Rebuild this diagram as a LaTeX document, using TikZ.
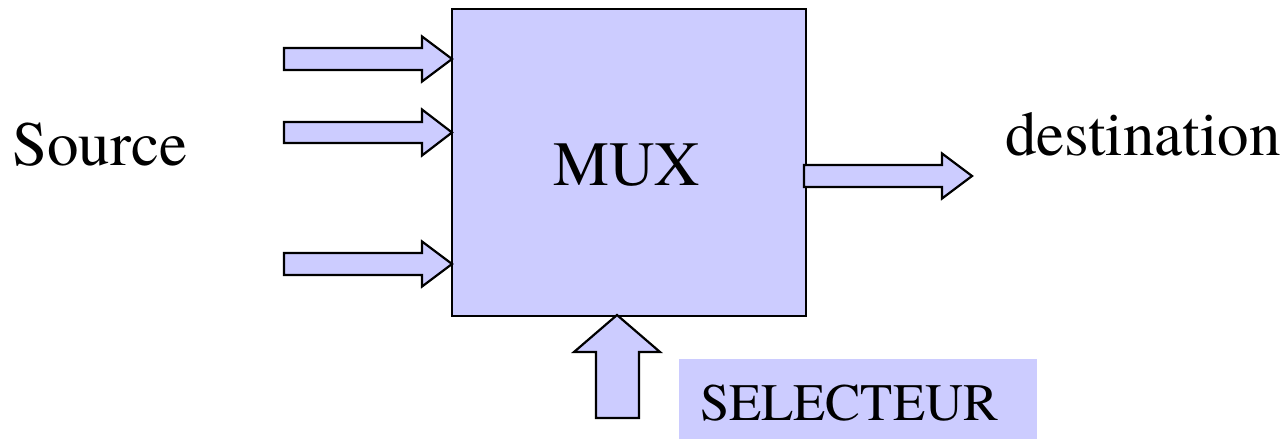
\documentclass[tikz,border=0pt]{standalone}
\usepackage{fontspec}
\setmainfont{texgyretermes-regular.otf}
\definecolor{muxfill}{HTML}{CCCCFF}
\tikzset{
  blk/.style={fill=muxfill, draw=black, line width=2.2pt, line join=miter},
  lbl/.style={inner sep=0pt, font=\fontsize{63}{70}\selectfont},
}
% horizontal block arrow: tail x, tip x, centre y, shaft half width, head half width, head length
\newcommand\hblock[6]{%
  \draw[blk] (#1,#3-#4) -- (#2-#6,#3-#4) -- (#2-#6,#3-#5) -- (#2,#3)
    -- (#2-#6,#3+#5) -- (#2-#6,#3+#4) -- (#1,#3+#4) -- cycle;}
\begin{document}
\begin{tikzpicture}[x=1pt,y=-1pt]
  \useasboundingbox (0,0) rectangle (1287,439);

  % multiplexer block
  \node[blk, anchor=north west, minimum width=354pt, minimum height=307pt, inner sep=0pt]
    (mux) at (451,8) {};
  \node[lbl, anchor=base] (muxlbl) at (626.5,185) {MUX};

  % input buses
  \hblock{284}{452}{59}{11}{22.5}{30}
  \hblock{284}{452}{132.5}{10.5}{23}{30}
  \hblock{284}{452}{264}{11}{22.5}{30}

  % output bus
  \hblock{804}{972}{176}{11}{22.5}{30}

  % selector bus (pointing up)
  \draw[blk] (596,418) -- (596,352) -- (574,352) -- (617,315) -- (660,352)
    -- (639,352) -- (639,418) -- cycle;

  % labels
  \node[lbl, anchor=base west] (src) at (12,165) {Source};
  \node[lbl, anchor=base west] (dst) at (1005,155) {destination};
  \fill[muxfill] (679,359) rectangle (1037,439);
  \node[inner sep=0pt, font=\fontsize{52.6}{60}\selectfont, anchor=base west]
    (sel) at (700,420) {SELECTEUR};
\end{tikzpicture}
\end{document}
